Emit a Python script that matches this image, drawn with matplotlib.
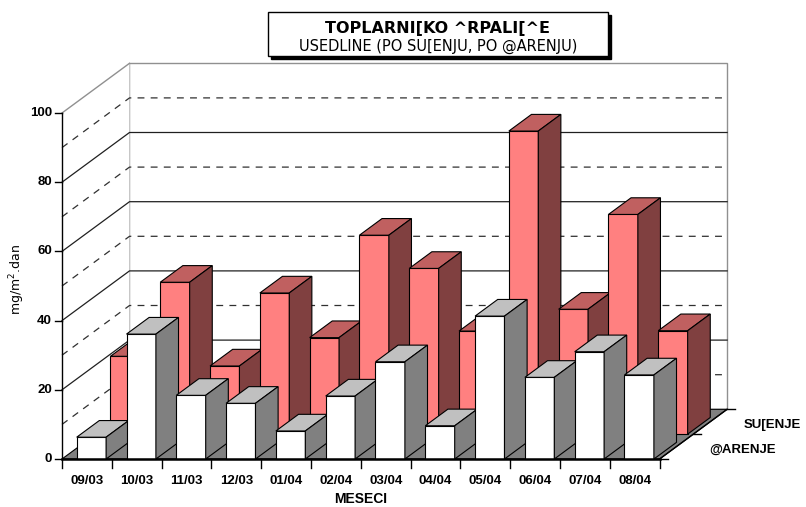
import matplotlib.pyplot as plt
from matplotlib.patches import Polygon, Rectangle

# months (x axis)
months = ["09/03", "10/03", "11/03", "12/03", "01/04", "02/04",
          "03/04", "04/04", "05/04", "06/04", "07/04", "08/04"]
# deposits mg/m2.dan
zarenje = [6.3, 36.1, 18.4, 16.1, 8.1, 18.2, 28.1, 9.6, 41.3, 23.6, 31.0, 24.3]
susenje = [22.5, 43.9, 19.7, 40.8, 27.9, 57.5, 47.9, 29.8, 87.6, 36.1, 63.5, 29.9]
series_names = ["@ARENJE", "SU[ENJE"]
yticks = [0, 20, 40, 60, 80, 100]

plt.rcParams['font.family'] = ['Liberation Sans', 'DejaVu Sans']

# pixel scale of the reference: 1 category = 49.8 px, 1 value unit = 3.46 px
CX, CY = 49.8, 3.46
X0, Y0 = 62, 459
W, H = 806, 507
DX = 67.5 / CX      # full depth offset, in category units
DY = 49.7 / CY      # full depth offset, in value units
BAR_OFF = 14.7 / CX
BAR_W = 29.4 / CX
BAR_D = 0.335
VMAX = 100


def P(x, v, d):
    return (x + d * DX, v + d * DY)


fig = plt.figure(figsize=(W / 100, H / 100), dpi=100)
ax = fig.add_axes([0, 0, 1, 1])
ax.set_xlim(-X0 / CX, (W - X0) / CX)
ax.set_ylim((Y0 - H) / CY, Y0 / CY)
ax.axis('off')

n = len(months)

# walls
ax.add_patch(Polygon([P(0, 0, 1), P(n, 0, 1), P(n, VMAX, 1), P(0, VMAX, 1)],
                     closed=True, fc='white', ec='#909090', lw=1, zorder=1))
ax.add_patch(Polygon([P(0, 0, 0), P(0, VMAX, 0), P(0, VMAX, 1), P(0, 0, 1)],
                     closed=True, fc='white', ec='none', zorder=1))
ax.plot(*zip(P(0, VMAX, 0), P(0, VMAX, 1)), color='#909090', lw=1, zorder=1.5)

# gridlines on walls
for g in range(10, VMAX, 10):
    if g % 20 == 0:
        ls, col = '-', '#202020'
    else:
        ls, col = (0, (5.5, 5)), '#303030'
    ax.plot(*zip(P(0, g, 0), P(0, g, 1), P(n, g, 1)), color=col, lw=0.9,
            linestyle=ls, zorder=1.5)

# floor
ax.add_patch(Polygon([P(0, 0, 0), P(n, 0, 0), P(n, 0, 1), P(0, 0, 1)],
                     closed=True, fc='#808080', ec='black', lw=0.8, zorder=2))


def bar(i, v, row, front, top, side):
    x0 = i + BAR_OFF
    x1 = x0 + BAR_W
    d0 = 0.5 * row
    d1 = d0 + BAR_D
    faces = [
        ([P(x0, 0, d0), P(x1, 0, d0), P(x1, v, d0), P(x0, v, d0)], front),
        ([P(x0, v, d0), P(x1, v, d0), P(x1, v, d1), P(x0, v, d1)], top),
        ([P(x1, 0, d0), P(x1, 0, d1), P(x1, v, d1), P(x1, v, d0)], side),
    ]
    for pts, c in faces:
        ax.add_patch(Polygon(pts, closed=True, fc=c, ec='black', lw=0.8,
                             joinstyle='miter', zorder=3))


for i, v in enumerate(susenje):
    bar(i, v, 1, '#FF8080', '#C06060', '#804040')
for i, v in enumerate(zarenje):
    bar(i, v, 0, 'white', '#C0C0C0', '#808080')

# value axis
ax.plot([0, 0], [0, VMAX], color='black', lw=1, zorder=4)
for t in yticks:
    ax.plot([-7 / CX, 0], [t, t], color='black', lw=1, zorder=4)
    ax.text(-10 / CX, t, str(t), ha='right', va='center', fontsize=9.5,
            fontweight='bold')
ax.text(-45 / CX, (Y0 - 280) / CY, 'mg/m$^2$.dan', rotation=90, ha='center',
        va='center', fontsize=9, family='DejaVu Sans')

# category axis
ax.plot([0, n], [0, 0], color='black', lw=1.8, zorder=4)
for i in range(n + 1):
    ax.plot([i, i], [0, -9 / CY], color='black', lw=1, zorder=4)
for i, m in enumerate(months):
    ax.text(i + 0.5, -22 / CY, m, ha='center', va='center', fontsize=9.5,
            fontweight='bold')
ax.text(n / 2, -40 / CY, 'MESECI', ha='center', va='center', fontsize=10,
        fontweight='bold')

# series axis
ax.plot(*zip(P(n, 0, 0), P(n, 0, 1)), color='black', lw=1, zorder=4)
for d in (0, 0.5, 1):
    x, y = P(n, 0, d)
    ax.plot([x, x + 8 / CX], [y, y], color='black', lw=1, zorder=4)
for r, name in enumerate(series_names):
    x, y = P(n, 0, 0.25 + 0.5 * r)
    ax.text(x + 33 / CX, y - 3 / CY, name, ha='left', va='center', fontsize=9.5,
            fontweight='bold')

# title box with shadow
bx0, bx1 = (268 - X0) / CX, (608 - X0) / CX
by0, by1 = (Y0 - 56) / CY, (Y0 - 12) / CY
ax.add_patch(Rectangle((bx0 + 3 / CX, by0 - 3 / CY), bx1 - bx0, by1 - by0,
                       fc='black', ec='black', zorder=5))
ax.add_patch(Rectangle((bx0, by0), bx1 - bx0, by1 - by0,
                       fc='white', ec='black', lw=1, zorder=6))
cx = (bx0 + bx1) / 2
ax.text(cx, (Y0 - 28) / CY, 'TOPLARNI[KO ^RPALI[^E', ha='center',
        va='center', fontsize=11.5, fontweight='bold', family='DejaVu Sans',
        zorder=7)
ax.text(cx, (Y0 - 46) / CY, 'USEDLINE (PO SU[ENJU, PO @ARENJU)', ha='center',
        va='center', fontsize=10.5, family='DejaVu Sans', zorder=7)

fig.savefig('out.png', dpi=100)
